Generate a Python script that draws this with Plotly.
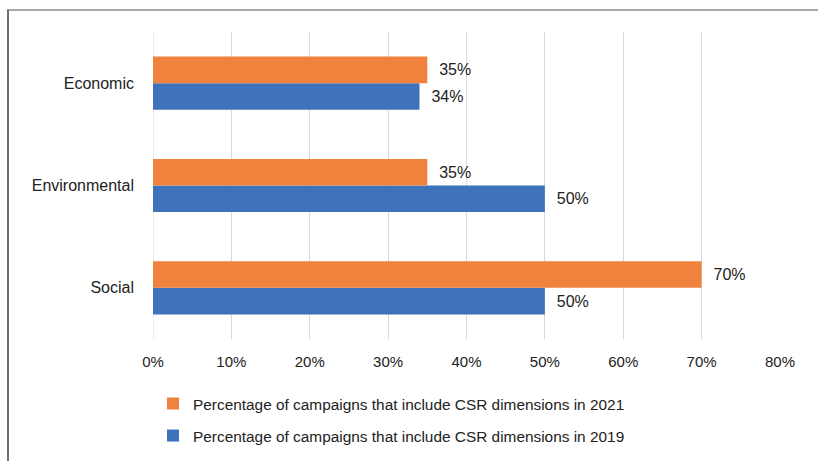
import plotly.graph_objects as go

categories = ["Economic", "Environmental", "Social"]
values_2021 = [0.35, 0.35, 0.70]
values_2019 = [0.34, 0.50, 0.50]
name_2021 = "Percentage of campaigns that include CSR dimensions in 2021"
name_2019 = "Percentage of campaigns that include CSR dimensions in 2019"
tick_vals = [0, 0.1, 0.2, 0.3, 0.4, 0.5, 0.6, 0.7, 0.8]
tick_text = ["0%", "10%", "20%", "30%", "40%", "50%", "60%", "70%", "80%"]

FONT = "Liberation Sans"
ORANGE = "#F0823D"
BLUE = "#3E73BC"

fig = go.Figure()
fig.add_trace(go.Bar(
    y=categories, x=values_2019, orientation="h", name=name_2019,
    marker=dict(color=BLUE, line=dict(width=0)),
    texttemplate="  %{x:.0%}", textposition="outside",
    textfont=dict(family=FONT, size=16, color="#222222"),
    cliponaxis=False, legendgroup="a", legendrank=2,
))
fig.add_trace(go.Bar(
    y=categories, x=values_2021, orientation="h", name=name_2021,
    marker=dict(color=ORANGE, line=dict(width=0)),
    texttemplate="  %{x:.0%}", textposition="outside",
    textfont=dict(family=FONT, size=16, color="#222222"),
    cliponaxis=False, legendgroup="b", legendrank=1,
))

L, R, T, B = 153, 38, 32, 122
W, H = 818, 461
pw, ph = W - L - R, H - T - B

fig.update_layout(
    width=W, height=H,
    margin=dict(l=L, r=R, t=T, b=B, pad=0, autoexpand=False),
    paper_bgcolor="white", plot_bgcolor="white",
    barmode="group", bargap=0.48, bargroupgap=0,
    font=dict(family=FONT, size=15, color="#222222"),
    showlegend=True,
    legend=dict(
        x=0.0, xanchor="left", yref="container", y=1 - 387 / H, yanchor="top",
        orientation="v", traceorder="grouped", tracegroupgap=9,
        font=dict(family=FONT, size=15.4, color="#222222"),
        bgcolor="rgba(0,0,0,0)",
    ),
    xaxis=dict(
        range=[0, 0.8], tickvals=tick_vals, ticktext=tick_text,
        showgrid=True, gridcolor="#D9D9D9", gridwidth=1,
        zeroline=False, showline=False, ticks="",
        tickfont=dict(family=FONT, size=15, color="#222222"),
        ticklabelstandoff=12,
    ),
    yaxis=dict(
        categoryorder="array", categoryarray=categories[::-1],
        showgrid=False, zeroline=False, showline=False, ticks="",
        tickfont=dict(family=FONT, size=16, color="#222222"),
        ticklabelstandoff=18,
    ),
    shapes=[
        dict(type="line", xref="paper", yref="paper",
             x0=(7 - L) / pw, x1=(W + 5 - L) / pw,
             y0=(H - B - 10) / ph, y1=(H - B - 10) / ph,
             line=dict(color="#8C8C8C", width=1.5)),
        dict(type="line", xref="paper", yref="paper",
             x0=(8 - L) / pw, x1=(8 - L) / pw,
             y0=(H - B - 10) / ph, y1=(H - B - H - 5) / ph,
             line=dict(color="#404040", width=1.5)),
    ],
)
fig.add_shape(type="line", xref="x", yref="paper", x0=0, x1=0, y0=0, y1=1,
              line=dict(color="#D9D9D9", width=1), layer="below")

fig.write_html("out.html")
